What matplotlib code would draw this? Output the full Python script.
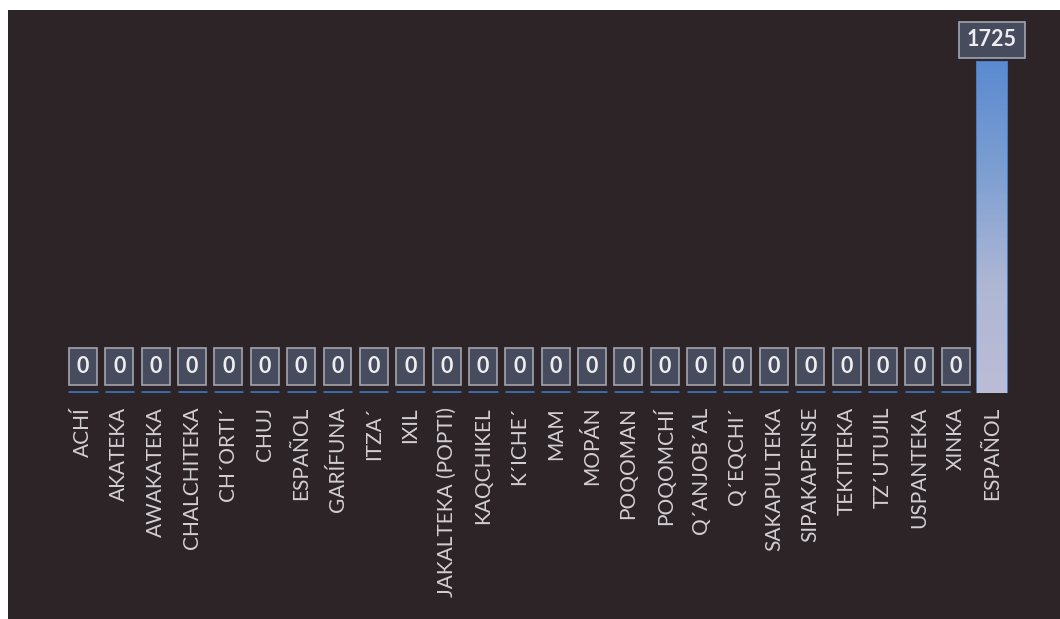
import numpy as np
import matplotlib
matplotlib.use("Agg")
import matplotlib.pyplot as plt
from matplotlib.colors import LinearSegmentedColormap

# idiomas registrados y cantidad por idioma
idiomas = ["ACHÍ", "AKATEKA", "AWAKATEKA", "CHALCHITEKA", "CH´ORTI´", "CHUJ",
           "ESPAÑOL", "GARÍFUNA", "ITZA´", "IXIL", "JAKALTEKA (POPTI)",
           "KAQCHIKEL", "K´ICHE´", "MAM", "MOPÁN", "POQOMAN", "POQOMCHÍ",
           "Q´ANJOB´AL", "Q´EQCHI´", "SAKAPULTEKA", "SIPAKAPENSE", "TEKTITEKA",
           "TZ´UTUJIL", "USPANTEKA", "XINKA", "ESPAÑOL"]
cantidad = [0, 0, 0, 0, 0, 0, 0, 0, 0, 0, 0, 0, 0, 0, 0, 0, 0, 0, 0, 0, 0, 0,
            0, 0, 0, 1725]

fondo = "#2c2427"
texto = "#d2ced2"

plt.rcParams["font.family"] = ["Lato", "DejaVu Sans"]

fig = plt.figure(figsize=(10.6, 6.19), dpi=100, facecolor="white")
# fondo oscuro del recuadro (margen blanco arriba e izquierda)
bg = fig.add_axes([8 / 1060, 0, 1 - 8 / 1060, 1 - 10 / 619], zorder=0)
bg.set_facecolor(fondo)
bg.set_xticks([])
bg.set_yticks([])
for s in bg.spines.values():
    s.set_visible(False)

ax = fig.add_axes([64.8 / 1060, (619 - 393) / 619, 945.4 / 1060, 374 / 619],
                  zorder=1)
ax.set_facecolor("none")

x = np.arange(len(idiomas))
barras = ax.bar(x, cantidad, width=0.8, color="#5f8bc8",
                edgecolor="#3a6cb0", linewidth=3.5, zorder=2)

# degradado en las barras con valor
cmap = LinearSegmentedColormap.from_list(
    "g", ["#bbbdd6", "#adb7d4", "#7d9fd2", "#5b8ad0"])
grad = np.linspace(0, 1, 256).reshape(-1, 1)
for b, v in zip(barras, cantidad):
    if v > 0:
        b.set_edgecolor("#4a78b8")
        b.set_linewidth(1.5)
        im = ax.imshow(grad, cmap=cmap, origin="lower", aspect="auto",
                       extent=[b.get_x(), b.get_x() + b.get_width(), 0, v],
                       zorder=3)
        im.set_clip_path(b)

ax.set_xlim(-0.5, len(idiomas) - 0.5)
ax.set_ylim(0, 1950)

for xi, v in zip(x, cantidad):
    off = 19 if v == 0 else 16
    ax.annotate(str(v), (xi, v), xytext=(0, off), textcoords="offset points",
                ha="center", va="center", fontsize=15.5, fontweight="bold",
                color="#eeeeee", zorder=4,
                bbox=dict(boxstyle="square,pad=0.36", fc="#464b5e",
                          ec="#a3a4ae", lw=1.2))

ax.set_xticks(x)
ax.set_xticklabels(idiomas, rotation=90, fontsize=15, color=texto,
                   va="top", ha="center")
ax.tick_params(axis="x", length=0, pad=10)
ax.set_yticks([])
for s in ax.spines.values():
    s.set_visible(False)

fig.savefig("out.png", dpi=100, facecolor="white")
